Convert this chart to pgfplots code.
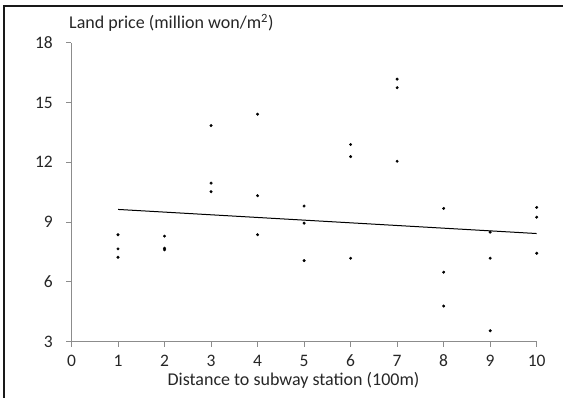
\documentclass[border=0pt]{standalone}
\usepackage{fontspec}
\setmainfont{Carlito}
\usepackage{pgfplots}
\pgfplotsset{compat=1.18}
\definecolor{axgray}{HTML}{8C8C8C}
\definecolor{txt}{HTML}{262626}
\begin{document}
\begin{tikzpicture}[x=1pt,y=1pt]
\path[use as bounding box] (-71.5,-55.5) rectangle (491.5,341.5);
\begin{axis}[
  at={(0,0)}, anchor=origin,
  scale only axis, width=465.2pt, height=298.8pt,
  xmin=0, xmax=10, ymin=3, ymax=18,
  xtick={0,1,...,10}, ytick={3,6,9,12,15,18},
  axis x line*=bottom, axis y line*=left,
  axis line style={axgray, line width=0.9pt, -},
  tick style={axgray, line width=0.9pt},
  tick align=outside, major tick length=5pt,
  /pgf/number format/assume math mode=true,
  font=\fontsize{17.5}{20}\selectfont\color{txt},
  xticklabel style={anchor=center, inner sep=0pt, yshift=-14.5pt},
  yticklabel style={anchor=east, inner sep=0pt, xshift=-13.5pt},
  clip=false,
]
\addplot[only marks, mark=*, mark size=1.3pt, black] coordinates {
(1,8.36) (1,7.65) (1,7.23)
(2,8.29) (2,7.68) (2,7.60)
(3,13.84) (3,10.95) (3,10.52)
(4,14.41) (4,10.32) (4,8.36)
(5,9.80) (5,8.94) (5,7.06)
(6,12.89) (6,12.28) (6,7.18)
(7,16.17) (7,15.74) (7,12.05)
(8,9.68) (8,6.48) (8,4.78)
(9,8.49) (9,7.18) (9,3.54)
(10,9.73) (10,9.24) (10,7.43)
};
\addplot[black, line width=1pt] coordinates {(1,9.63) (10,8.42)};
\end{axis}
\draw[line width=1.5pt, black!90] (-67.5,-56) -- (-67.5,335.5) -- (492,335.5);
\node[anchor=base west, inner sep=0pt, font=\fontsize{18}{20}\selectfont\color{txt}] at (-2.5,312.5) {Land price (million won/m\textsuperscript{2})};
\node[anchor=base, inner sep=0pt, font=\fontsize{18}{20}\selectfont\color{txt}] at (222,-44) {Distance to subway station (100m)};
\end{tikzpicture}
\end{document}
